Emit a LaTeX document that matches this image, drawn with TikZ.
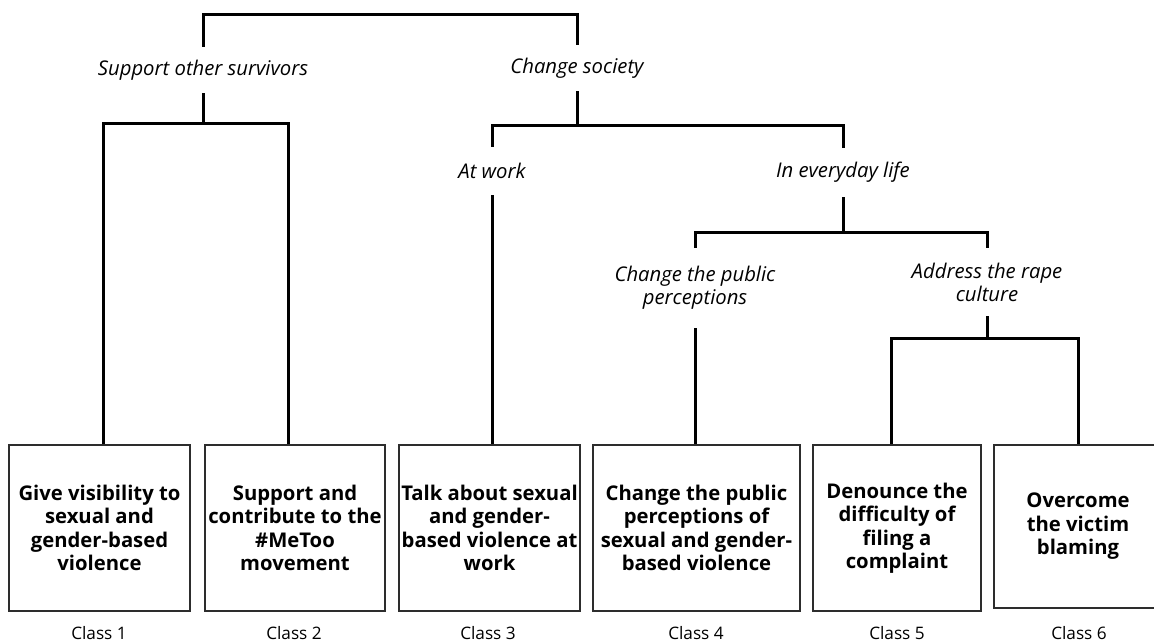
\documentclass[tikz,border=0pt]{standalone}
\usepackage{fontspec}
\setmainfont{Open Sans}
\begin{document}
\begin{tikzpicture}[x=0.75pt,y=-0.75pt,
  conn/.style={line width=2.25pt, black, line join=miter},
  lbl/.style={font=\itshape\fontsize{15.2}{17.25}\selectfont, align=center, inner sep=0pt, minimum height=34.5pt},
  cbox/.style={draw={rgb,255:red,45;green,45;blue,45}, line width=1pt, align=center, inner sep=0pt,
    font=\bfseries\fontsize{15.2}{17.6}\selectfont, minimum height=124.5pt},
  cls/.style={font=\fontsize{12.9}{15}\selectfont, inner sep=0pt}]
\useasboundingbox (0,0) rectangle (1154,643);
\fill[white] (0,0) rectangle (1154,643);
\clip (0,0) rectangle (1154,643);

% labels
\node[lbl] (sup) at (203,70) {Support other survivors};
\node[lbl] (chg) at (577,68) {Change society};
\node[lbl, minimum height=36pt] (aw) at (492,171) {At work};
\node[lbl, minimum height=36.75pt] (ev) at (843,172.5) {In everyday life};
\node[lbl, minimum height=60pt] (cp) at (695,288) {Change the public\\perceptions};
\node[lbl, minimum height=51pt] (ar) at (987,282) {Address the rape\\culture};

% boxes
\node[cbox, minimum width=135.75pt] (b1) at (99.5,528) {Give visibility to\\sexual and\\gender-based\\violence};
\node[cbox, minimum width=135pt] (b2) at (295,528) {Support and\\contribute to the\\\#MeToo\\movement};
\node[cbox, minimum width=135.75pt] (b3) at (489.5,528) {Talk about sexual\\and gender-\\based violence at\\work};
\node[cbox, minimum width=155.25pt] (b4) at (696.5,528) {Change the public\\perceptions of\\sexual and gender-\\based violence};
\node[cbox, minimum width=126pt] (b5) at (897,528) {Denounce the\\difficulty of\\filing a\\complaint};
\node[cbox, minimum width=126pt, minimum height=122.25pt] (b6) at (1078,526.5) {Overcome\\the victim\\blaming};

% class labels
\node[cls] (c1) at (99,633) {Class 1};
\node[cls] (c2) at (294,633) {Class 2};
\node[cls] (c3) at (488,633) {Class 3};
\node[cls] (c4) at (696,633) {Class 4};
\node[cls] (c5) at (897,633) {Class 5};
\node[cls] (c6) at (1079,633) {Class 6};

% junctions
\coordinate (t0) at (390,14);
\coordinate (j1) at (203,123);
\coordinate (k1) at (103,123);
\coordinate (k2) at (288,123);
\coordinate (j2) at (577,125);
\coordinate (j3) at (843,232);
\coordinate (j4) at (987,338);
\coordinate (k5) at (891,338);
\coordinate (k6) at (1078,338);

% connectors
\draw[conn] (sup.north) |- (t0) -| (chg.north);
\draw[conn] (sup.south) -- (j1);
\draw[conn] (k1 |- b1.north) -- (k1) -- (k2) -- (k2 |- b2.north);
\draw[conn] (chg.south) -- (j2);
\draw[conn] (aw.north) |- (j2) -| (ev.north);
\draw[conn] (aw.south) -- (aw.south |- b3.north);
\draw[conn] (ev.south) -- (j3);
\draw[conn] (cp.north) |- (j3) -| (ar.north);
\draw[conn] (cp.south) -- (cp.south |- b4.north);
\draw[conn] (ar.south) -- (j4);
\draw[conn] (k5 |- b5.north) -- (k5) -- (k6) -- (k6 |- b6.north);
\end{tikzpicture}
\end{document}
